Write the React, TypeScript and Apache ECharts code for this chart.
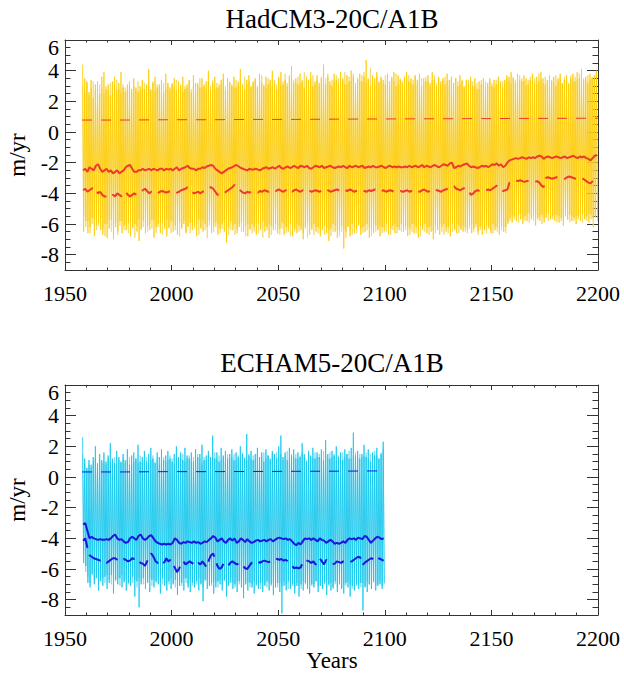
import React, { useEffect, useRef } from "react";
import * as echarts from "echarts";

// ---------- data ----------
const hadStart = 1958;
const echStart = 1958;

// HadCM3 annual-cycle peaks / troughs (gold member A and pale member B)
const hadPeakA = [
  4.4,3.5,3.3,2.6,3.4,2.2,3.1,3.3,2.5,3.6,
  3.9,2.8,3.1,2.4,3.3,3.6,2.7,3.2,3.9,2.9,
  2.6,3.1,3.3,2.8,3.5,2.9,2.6,3.0,3.4,2.8,
  3.1,4.1,2.7,3.2,3.6,2.9,3.1,3.4,2.6,3.8,
  3.2,2.9,3.1,3.5,2.7,3.3,3.0,3.6,2.8,3.1,
  3.4,2.6,3.7,3.2,3.1,2.9,3.5,3.0,3.3,4.0,
  2.8,3.2,3.6,2.9,3.1,3.4,3.8,2.7,3.5,3.2,
  3.0,3.6,2.9,3.3,4.1,3.1,2.8,3.4,3.7,3.0,
  3.3,3.5,2.9,3.8,3.2,3.0,3.6,3.1,3.4,4.0,
  3.2,2.8,3.5,3.9,3.1,3.4,3.0,3.7,4.3,3.2,
  3.5,3.1,3.8,3.3,2.9,3.6,3.4,3.9,3.0,3.3,
  3.7,3.2,3.5,4.4,3.1,3.6,3.3,3.0,3.8,3.4,
  3.2,3.9,3.5,3.1,3.7,3.3,4.0,3.6,3.2,3.5,
  3.8,3.3,3.6,4.7,3.4,3.0,3.7,3.5,3.9,3.2,
  3.6,3.4,3.1,3.8,3.3,3.5,3.9,3.0,3.7,3.4,
  3.2,3.6,3.9,3.3,3.5,3.1,3.7,3.4,3.8,3.0,
  3.5,3.3,3.7,3.2,3.9,3.4,3.0,3.6,3.3,3.5,
  3.1,3.8,3.4,3.6,3.2,3.5,3.0,3.7,3.3,2.9,
  3.4,3.2,3.6,3.0,3.5,2.8,3.3,3.1,3.5,2.9,
  3.2,3.5,3.0,3.4,3.1,3.6,3.3,2.9,3.4,3.7,
  3.6,3.9,3.5,3.2,3.8,3.4,3.3,3.7,3.5,3.1,
  3.4,3.8,3.2,3.6,3.3,3.9,3.5,3.1,3.4,3.7,
  3.3,3.6,3.0,3.5,3.8,3.2,3.4,3.7,3.1,3.5,
  3.8,3.3,3.9,3.5,4.1,3.4,3.6,3.2,3.8,3.5,
  3.7,4.0,
];
const hadTroughA = [
  -6.5,-5.8,-6.6,-6.2,-5.6,-6.8,-6.1,-5.9,-6.4,-6.7,
  -6.0,-6.9,-6.3,-5.7,-7.0,-6.2,-6.5,-5.8,-6.6,-6.1,
  -6.4,-5.9,-6.8,-6.2,-6.0,-6.5,-7.1,-6.3,-5.8,-6.6,
  -6.1,-6.4,-5.7,-6.9,-6.2,-6.0,-6.6,-5.9,-6.3,-6.8,
  -6.2,-5.8,-6.5,-6.1,-6.7,-5.9,-6.3,-6.0,-6.6,-6.2,
  -5.9,-6.4,-6.1,-6.8,-5.7,-6.3,-6.5,-6.0,-6.2,-5.8,
  -6.6,-6.1,-5.9,-6.7,-6.3,-6.0,-6.5,-7.2,-6.2,-5.8,
  -6.4,-6.0,-6.6,-6.2,-5.9,-6.5,-6.1,-6.8,-6.3,-6.0,
  -6.2,-6.7,-6.0,-6.4,-5.8,-6.5,-6.2,-6.9,-6.1,-6.4,
  -6.0,-6.6,-6.3,-5.9,-6.7,-6.2,-6.5,-6.0,-6.8,-6.3,
  -6.6,-6.1,-6.4,-7.0,-6.2,-5.9,-6.7,-6.3,-6.0,-6.5,
  -6.2,-6.8,-6.4,-6.1,-6.6,-7.1,-6.3,-6.0,-6.5,-6.9,
  -6.4,-6.1,-7.6,-6.5,-6.2,-6.8,-6.0,-6.6,-6.3,-6.1,
  -6.7,-6.2,-6.5,-6.0,-6.9,-6.3,-6.6,-6.1,-6.4,-6.8,
  -6.2,-6.5,-6.0,-6.7,-6.3,-6.1,-6.6,-6.2,-6.4,-6.0,
  -6.5,-6.1,-6.8,-6.3,-6.0,-6.6,-6.2,-6.9,-6.1,-6.4,
  -6.0,-6.6,-6.2,-6.5,-7.0,-6.1,-6.4,-6.7,-6.2,-6.0,
  -6.5,-6.2,-6.8,-6.0,-6.4,-6.6,-6.1,-6.3,-6.5,-6.2,
  -6.4,-6.1,-6.6,-6.3,-6.0,-6.5,-6.2,-6.7,-6.4,-6.1,
  -6.3,-6.6,-6.0,-6.4,-6.2,-6.7,-6.1,-6.5,-6.2,-5.9,
  -5.6,-5.9,-5.5,-5.8,-5.4,-5.7,-6.0,-5.5,-5.8,-5.3,
  -5.7,-5.5,-6.1,-5.6,-5.8,-5.4,-5.9,-5.6,-5.3,-5.7,
  -5.5,-5.8,-5.4,-5.9,-5.6,-6.1,-5.5,-5.7,-5.4,-5.8,
  -5.6,-6.0,-5.5,-5.8,-5.3,-5.7,-5.5,-5.9,-5.4,-5.6,
  -5.5,-5.8,
];
const hadPeakB = [
  3.0,2.6,3.2,2.4,2.9,3.3,2.7,2.5,3.1,2.8,
  2.5,3.0,2.7,3.2,2.6,2.9,3.4,2.8,2.5,3.1,
  2.9,2.7,3.1,2.6,3.0,2.8,3.3,2.7,2.9,3.2,
  2.6,3.0,2.8,3.3,2.7,3.1,2.9,2.6,3.2,2.8,
  3.0,2.7,3.2,2.9,3.4,2.8,3.1,2.6,3.0,2.9,
  3.3,2.8,3.0,2.7,3.2,3.5,2.9,3.1,2.8,3.3,
  3.0,3.4,2.8,3.2,2.9,3.1,3.5,3.0,2.7,3.3,
  3.1,2.9,3.4,3.0,3.2,2.8,3.6,3.1,3.3,2.9,
  3.2,3.4,3.0,3.3,3.7,3.1,2.9,3.5,3.2,3.0,
  3.4,3.1,3.6,3.0,3.3,3.8,3.2,3.5,3.0,3.4,
  3.2,3.6,3.1,3.4,3.9,3.3,3.0,3.5,3.7,3.1,
  3.4,3.0,3.6,3.2,3.5,3.8,3.1,3.4,3.3,3.7,
  3.5,3.2,3.4,3.9,3.1,3.6,3.3,3.8,3.0,3.4,
  3.3,3.7,3.9,3.2,3.5,4.2,3.4,3.1,3.6,3.3,
  3.5,3.2,3.7,3.4,3.0,3.6,3.3,3.8,3.1,3.5,
  3.3,3.0,3.5,3.7,3.2,3.4,3.6,3.1,3.3,3.5,
  3.2,3.6,3.3,3.0,3.4,3.7,3.2,3.5,3.1,3.4,
  3.6,3.3,3.0,3.4,3.2,3.5,3.3,3.1,3.4,3.0,
  3.1,3.4,2.9,3.3,3.0,3.2,2.8,3.4,3.1,3.3,
  3.0,3.3,3.2,2.9,3.4,3.1,3.0,3.3,3.2,3.5,
  3.3,3.1,3.6,3.4,3.2,3.7,3.5,3.3,3.0,3.4,
  3.6,3.3,3.5,3.1,3.8,3.4,3.2,3.6,3.3,3.0,
  3.4,3.2,3.7,3.3,3.5,3.1,3.6,3.4,3.2,3.7,
  3.3,3.6,3.4,3.8,3.2,3.5,3.3,3.7,3.4,3.6,
  3.5,3.8,
];
const hadTroughB = [
  -5.5,-6.2,-5.8,-6.6,-6.0,-5.7,-6.4,-6.1,-5.6,-6.3,
  -6.8,-6.0,-5.7,-6.5,-6.2,-5.9,-6.7,-6.1,-5.8,-6.4,
  -6.0,-6.6,-5.8,-6.3,-6.9,-6.1,-5.7,-6.4,-6.2,-5.9,
  -6.5,-6.0,-6.3,-5.8,-6.6,-6.2,-5.9,-6.7,-6.1,-5.7,
  -6.3,-6.6,-5.9,-6.4,-6.0,-6.8,-6.2,-5.8,-6.5,-6.1,
  -6.6,-5.9,-6.3,-6.0,-6.7,-6.2,-5.8,-6.4,-6.9,-6.1,
  -5.9,-6.5,-6.2,-6.0,-6.6,-6.3,-5.8,-6.1,-6.7,-6.4,
  -6.1,-6.7,-6.3,-6.0,-6.5,-6.2,-6.8,-6.0,-6.4,-6.6,
  -6.5,-6.0,-6.6,-6.2,-6.9,-6.1,-6.4,-6.0,-6.7,-6.2,
  -6.4,-6.1,-6.7,-6.3,-6.0,-6.6,-6.2,-6.8,-6.1,-6.5,
  -6.0,-6.5,-6.2,-6.6,-6.3,-6.9,-6.1,-6.4,-6.7,-6.2,
  -6.6,-6.3,-6.0,-6.7,-6.2,-6.4,-6.8,-6.5,-6.1,-6.3,
  -6.8,-6.5,-6.3,-6.9,-6.1,-6.4,-6.7,-6.2,-6.6,-6.0,
  -6.3,-6.6,-6.1,-6.4,-6.2,-6.8,-6.0,-6.5,-6.3,-6.1,
  -6.6,-6.2,-6.5,-6.1,-6.7,-6.4,-6.0,-6.6,-6.2,-6.5,
  -6.1,-6.4,-6.2,-6.7,-6.5,-6.0,-6.6,-6.3,-6.8,-6.2,
  -6.5,-6.2,-6.7,-6.1,-6.4,-6.6,-6.3,-6.0,-6.5,-6.7,
  -6.2,-6.6,-6.1,-6.5,-6.3,-6.0,-6.6,-6.4,-6.1,-6.5,
  -6.6,-6.3,-6.0,-6.5,-6.2,-6.7,-6.4,-6.1,-6.3,-6.6,
  -6.1,-6.4,-6.6,-6.2,-6.5,-6.0,-6.4,-6.2,-6.6,-6.0,
  -5.8,-5.4,-5.7,-5.5,-5.9,-5.3,-5.6,-5.8,-5.4,-5.9,
  -5.5,-5.8,-5.4,-5.7,-5.5,-6.0,-5.6,-5.3,-5.8,-5.5,
  -5.7,-5.4,-5.9,-5.5,-5.8,-5.6,-5.3,-5.7,-5.9,-5.5,
  -5.8,-5.5,-5.7,-5.4,-5.9,-5.6,-5.8,-5.3,-5.7,-6.2,
  -5.6,-5.4,
];
// HadCM3 annual statistics (red)
const hadMean = [
  -2.5,-2.4,-2.6,-2.3,-2.4,-2.5,-2.2,-2.1,-2.4,-2.6,
  -2.5,-2.4,-2.6,-2.5,-2.7,-2.6,-2.5,-2.7,-2.6,-2.5,
  -2.3,-2.2,-2.15,-2.4,-2.6,-2.6,-2.5,-2.5,-2.4,-2.5,
  -2.45,-2.4,-2.5,-2.4,-2.45,-2.5,-2.4,-2.4,-2.5,-2.4,
  -2.45,-2.4,-2.5,-2.4,-2.3,-2.5,-2.4,-2.35,-2.3,-2.2,
  -2.35,-2.4,-2.4,-2.5,-2.4,-2.4,-2.3,-2.35,-2.25,-2.2,
  -2.15,-2.2,-2.4,-2.5,-2.6,-2.7,-2.6,-2.5,-2.4,-2.35,
  -2.3,-2.2,-2.15,-2.25,-2.35,-2.4,-2.45,-2.5,-2.4,-2.45,
  -2.45,-2.4,-2.45,-2.5,-2.4,-2.35,-2.3,-2.4,-2.35,-2.3,
  -2.4,-2.3,-2.2,-2.35,-2.4,-2.3,-2.25,-2.35,-2.3,-2.2,
  -2.3,-2.35,-2.2,-2.25,-2.3,-2.2,-2.35,-2.4,-2.3,-2.2,
  -2.25,-2.3,-2.2,-2.35,-2.3,-2.25,-2.2,-2.3,-2.35,-2.3,
  -2.25,-2.3,-2.2,-2.3,-2.35,-2.2,-2.3,-2.25,-2.2,-2.3,
  -2.25,-2.2,-2.35,-2.3,-2.25,-2.3,-2.2,-2.3,-2.3,-2.25,
  -2.2,-2.3,-2.35,-2.25,-2.2,-2.3,-2.25,-2.3,-2.25,-2.3,
  -2.3,-2.25,-2.3,-2.2,-2.3,-2.25,-2.2,-2.3,-2.25,-2.15,
  -2.3,-2.2,-2.25,-2.3,-2.2,-2.15,-2.25,-2.3,-2.2,-2.1,
  -2.15,-2.2,-2.05,-2.0,-2.35,-2.3,-2.2,-2.25,-2.15,-2.1,
  -2.05,-2.2,-2.3,-2.25,-2.3,-2.35,-2.3,-2.2,-2.25,-2.2,
  -2.3,-2.2,-2.1,-2.15,-2.05,-2.2,-2.1,-2.3,-2.2,-2.0,
  -1.85,-1.8,-1.75,-1.7,-1.75,-1.7,-1.65,-1.7,-1.75,-1.65,
  -1.7,-1.65,-1.7,-1.6,-1.55,-1.6,-1.75,-1.65,-1.6,-1.65,
  -1.7,-1.65,-1.6,-1.65,-1.7,-1.65,-1.6,-1.7,-1.65,-1.6,
  -1.55,-1.65,-1.7,-1.6,-1.65,-1.6,-1.7,-1.75,-1.85,-1.7,
  -1.55,-1.5,
];
const hadLow = [
  -3.8,-3.7,-3.9,-3.8,-3.7,-3.6,-3.7,-4.0,-3.9,-4.1,
  -4.2,-4.2,-4.1,-4.2,-4.1,-4.2,-4.0,-4.1,-4.2,-4.0,
  -3.9,-4.1,-4.2,-4.1,-4.0,-4.1,-4.0,-3.9,-3.8,-3.7,
  -3.85,-4.0,-3.9,-3.95,-3.9,-4.0,-3.9,-3.85,-3.9,-3.95,
  -3.9,-3.85,-3.9,-4.0,-3.95,-3.9,-3.8,-3.75,-3.7,-3.6,
  -3.75,-3.9,-4.0,-3.95,-3.9,-4.0,-3.9,-3.85,-3.7,-3.65,
  -3.6,-3.7,-3.9,-4.1,-4.05,-4.1,-4.0,-3.9,-3.8,-3.7,
  -3.6,-3.45,-3.5,-3.7,-3.85,-3.95,-4.0,-3.9,-3.95,-3.9,
  -3.85,-3.9,-3.95,-3.85,-3.9,-3.8,-3.85,-3.9,-3.8,-3.85,
  -3.9,-3.8,-3.75,-3.85,-3.9,-3.8,-3.7,-3.85,-3.9,-3.8,
  -3.75,-3.85,-3.9,-3.8,-3.85,-3.75,-3.8,-3.9,-3.85,-3.8,
  -3.85,-3.9,-3.8,-3.75,-3.85,-3.8,-3.9,-3.85,-3.8,-3.75,
  -3.8,-3.85,-3.9,-3.8,-3.85,-3.75,-3.8,-3.9,-3.85,-3.8,
  -3.75,-3.8,-3.85,-3.9,-3.8,-3.85,-3.8,-3.75,-3.85,-3.9,
  -3.85,-3.8,-3.9,-3.85,-3.8,-3.85,-3.9,-3.85,-3.9,-3.85,
  -3.9,-3.85,-3.8,-3.9,-3.85,-3.9,-3.8,-3.85,-3.9,-3.8,
  -3.75,-3.85,-3.9,-3.8,-3.85,-3.75,-3.8,-3.85,-3.9,-3.8,
  -3.75,-3.7,-3.6,-3.5,-3.55,-3.7,-3.75,-3.8,-3.7,-3.65,
  -3.7,-3.9,-4.1,-4.0,-3.85,-3.8,-3.85,-3.9,-3.85,-3.8,
  -3.75,-3.8,-3.7,-3.6,-3.5,-3.65,-3.8,-3.85,-3.8,-3.75,
  -3.3,-3.2,-3.2,-3.15,-3.2,-3.15,-3.2,-3.25,-3.2,-3.2,
  -3.15,-3.2,-3.25,-3.2,-3.3,-3.5,-3.6,-3.0,-2.95,-3.0,
  -3.05,-3.0,-2.95,-3.0,-3.05,-3.1,-3.05,-2.95,-2.9,-2.95,
  -3.0,-3.05,-3.1,-3.05,-3.0,-3.1,-3.2,-3.3,-3.35,-3.2,
  -3.05,-3.0,
];
const hadHighYears = [1958, 1978, 1998, 2018, 2038, 2058, 2078, 2098, 2118, 2138, 2158, 2178, 2200];
const hadHigh = [0.78, 0.78, 0.8, 0.8, 0.82, 0.82, 0.84, 0.85, 0.86, 0.87, 0.88, 0.89, 0.9];

// ECHAM5 annual-cycle peaks / troughs (cyan member A and pale member B)
const echPeakA = [
  2.6,1.2,0.6,1.1,0.8,1.3,2.0,0.9,1.5,1.1,
  1.6,1.0,1.4,2.2,1.2,0.9,1.7,1.3,1.0,1.5,
  1.1,1.8,0.8,1.4,1.6,1.2,2.1,1.0,1.3,1.7,
  1.0,1.5,1.9,1.2,0.9,1.6,1.3,1.8,1.1,1.4,
  1.7,1.2,1.0,1.5,2.0,1.3,1.6,1.1,1.9,1.4,
  1.2,1.6,1.0,1.8,1.3,1.5,2.1,1.1,1.4,1.7,
  1.3,2.7,1.2,1.6,1.0,1.9,1.4,1.7,1.2,1.5,
  1.8,1.1,1.6,1.3,2.0,1.5,1.2,2.8,1.4,1.7,
  1.1,1.5,1.9,1.3,1.6,1.0,1.8,1.4,1.2,1.7,
  1.5,1.2,2.0,2.7,1.3,1.6,1.1,1.9,1.4,1.8,
  1.2,1.6,1.3,2.2,1.5,1.0,1.7,1.4,1.9,1.2,
  1.6,1.3,1.8,1.1,2.4,1.5,1.2,1.7,1.4,2.0,
  1.3,1.6,1.1,1.8,1.5,1.2,1.9,2.9,1.4,1.7,
  1.2,1.5,2.1,1.3,1.8,1.0,1.6,1.4,1.9,1.2,
  1.5,2.3,
];
const echTroughA = [
  -5.6,-5.8,-6.9,-7.2,-6.3,-7.0,-6.6,-7.4,-6.8,-7.1,
  -6.5,-7.3,-6.9,-6.4,-7.6,-6.7,-7.0,-6.6,-7.2,-6.8,
  -7.4,-6.9,-7.1,-6.5,-7.8,-6.8,-8.5,-7.0,-6.6,-7.3,
  -6.9,-7.5,-6.7,-7.2,-6.8,-7.0,-7.6,-6.6,-7.1,-7.4,
  -6.8,-7.3,-7.0,-6.7,-7.7,-7.1,-6.9,-7.4,-6.6,-7.2,
  -7.5,-6.9,-7.2,-6.8,-7.4,-7.0,-8.1,-6.7,-7.3,-7.1,
  -6.9,-7.6,-7.2,-6.8,-7.0,-7.4,-6.7,-7.8,-7.1,-6.9,
  -7.3,-7.0,-7.5,-6.8,-7.2,-7.9,-7.0,-7.4,-6.9,-7.2,
  -7.6,-7.0,-7.3,-6.9,-7.5,-7.1,-6.8,-7.4,-7.0,-7.7,
  -7.2,-6.9,-7.5,-8.9,-7.1,-7.4,-6.8,-7.3,-7.0,-7.6,
  -7.1,-7.8,-7.0,-7.4,-6.9,-7.3,-7.6,-7.0,-7.2,-6.8,
  -7.5,-7.1,-7.3,-6.9,-7.7,-7.0,-7.4,-7.2,-6.8,-7.5,
  -7.0,-7.3,-7.6,-6.9,-7.2,-7.8,-7.1,-7.4,-7.0,-7.3,
  -6.9,-8.7,-7.2,-7.5,-7.0,-7.3,-6.8,-7.4,-7.1,-7.0,
  -7.3,-6.9,
];
const echPeakB = [
  1.5,0.9,0.5,0.8,0.6,1.0,1.2,0.7,1.1,0.9,
  1.0,0.8,1.2,1.0,0.9,1.3,0.8,1.1,0.9,1.2,
  0.9,1.1,1.3,0.8,1.0,1.2,0.9,1.4,1.0,1.1,
  1.3,0.9,1.1,1.4,1.0,1.2,0.8,1.1,1.3,1.0,
  1.1,1.4,1.2,0.9,1.3,1.0,1.2,1.5,1.0,1.2,
  1.4,1.0,1.3,1.1,1.5,1.2,0.9,1.3,1.1,1.4,
  1.0,1.3,1.6,1.2,1.4,1.1,1.3,1.0,1.5,1.2,
  1.3,1.5,1.1,1.4,1.2,1.6,1.3,1.1,1.5,1.2,
  1.4,1.2,1.5,1.1,1.3,1.6,1.2,1.4,1.1,1.5,
  1.2,1.6,1.3,1.5,1.1,1.4,1.7,1.2,1.5,1.3,
  1.5,1.2,1.4,1.6,1.3,1.1,1.5,1.3,1.2,1.6,
  1.3,1.5,1.2,1.7,1.4,1.2,1.6,1.3,1.5,1.1,
  1.4,1.2,1.6,1.3,1.5,1.7,1.2,1.4,1.6,1.3,
  1.5,1.3,1.4,1.6,1.2,1.5,1.3,1.7,1.4,1.2,
  1.6,1.8,
];
const echTroughB = [
  -5.0,-6.2,-6.5,-6.9,-6.4,-6.7,-6.3,-6.8,-6.5,-6.6,
  -6.9,-6.4,-6.7,-7.0,-6.5,-6.8,-6.6,-7.1,-6.4,-6.9,
  -6.6,-7.0,-6.5,-6.9,-6.7,-7.2,-6.6,-6.8,-7.0,-6.5,
  -6.8,-6.6,-7.1,-6.7,-6.9,-6.5,-6.8,-7.0,-6.6,-6.9,
  -7.0,-6.6,-6.9,-7.2,-6.7,-6.8,-7.1,-6.6,-6.9,-7.0,
  -6.7,-7.1,-6.8,-7.0,-6.6,-6.9,-7.2,-6.8,-6.7,-7.0,
  -7.1,-6.8,-6.9,-7.2,-6.7,-7.0,-6.8,-7.1,-6.9,-6.6,
  -6.9,-7.2,-6.8,-7.0,-6.7,-7.1,-6.9,-6.8,-7.2,-7.0,
  -6.8,-7.1,-6.9,-7.3,-6.8,-7.0,-7.2,-6.9,-7.1,-6.8,
  -7.0,-7.2,-6.9,-7.1,-6.8,-7.0,-7.3,-6.9,-7.1,-7.2,
  -6.9,-7.1,-7.3,-6.8,-7.0,-7.2,-6.9,-7.1,-7.0,-6.8,
  -7.1,-6.9,-7.2,-7.0,-6.8,-7.1,-6.9,-7.3,-7.0,-7.2,
  -6.9,-7.2,-7.0,-7.1,-6.8,-7.0,-7.3,-6.9,-7.1,-7.0,
  -7.2,-6.9,-7.1,-6.8,-7.0,-7.2,-6.9,-7.1,-7.0,-6.8,
  -7.1,-7.0,
];
// ECHAM5 annual statistics (blue)
const echMean = [
  -3.1,-3.0,-3.5,-4.0,-3.9,-4.0,-4.05,-4.1,-4.05,-4.1,
  -4.1,-4.05,-4.1,-4.0,-3.85,-3.75,-4.0,-4.1,-4.05,-4.2,
  -4.3,-4.25,-4.0,-3.9,-4.0,-4.1,-3.85,-3.75,-4.0,-4.1,
  -4.0,-3.85,-3.8,-4.0,-4.2,-4.3,-4.35,-4.4,-4.35,-4.4,
  -4.35,-4.4,-4.3,-4.0,-4.1,-4.3,-4.35,-4.25,-4.3,-4.2,
  -4.25,-4.3,-4.2,-4.3,-4.25,-4.35,-4.3,-4.2,-4.25,-4.1,
  -4.0,-3.85,-3.95,-4.2,-4.1,-4.0,-4.2,-4.3,-4.1,-4.0,
  -4.15,-4.0,-4.3,-4.2,-4.0,-4.1,-4.25,-4.05,-4.2,-4.3,
  -4.25,-4.15,-4.1,-4.2,-4.15,-4.1,-4.2,-4.1,-4.05,-4.2,
  -4.1,-4.0,-3.95,-4.0,-4.05,-4.0,-4.1,-4.05,-4.2,-4.35,
  -4.45,-4.3,-4.4,-4.2,-4.0,-4.05,-4.0,-4.1,-4.0,-4.1,
  -4.2,-4.0,-4.1,-4.15,-4.3,-4.2,-4.1,-4.2,-4.35,-4.3,
  -4.35,-4.3,-4.2,-4.3,-4.1,-4.0,-4.05,-4.0,-4.1,-3.95,
  -4.0,-4.05,-3.85,-3.9,-4.1,-4.3,-4.15,-4.0,-3.9,-3.95,
  -4.05,-4.0,
];
const echLow = [
  -4.15,-4.0,-4.6,-5.1,-5.2,-5.3,-5.35,-5.4,-5.45,-5.4,
  -5.5,-5.6,-5.5,-5.4,-5.3,-5.3,-5.4,-5.5,-5.4,-5.35,
  -5.4,-5.5,-5.45,-5.3,-5.35,-5.3,-5.5,-5.6,-5.65,-5.8,
  -5.5,-5.1,-5.0,-5.2,-5.5,-5.6,-5.5,-5.4,-5.6,-5.3,
  -5.5,-5.4,-5.7,-5.9,-6.2,-6.0,-5.6,-5.5,-5.7,-5.6,
  -5.5,-5.6,-5.7,-5.8,-5.6,-5.7,-5.5,-5.7,-5.9,-5.4,
  -5.1,-5.0,-5.4,-5.8,-6.0,-5.9,-5.6,-5.7,-5.8,-5.6,
  -5.5,-5.6,-5.7,-5.65,-5.6,-5.8,-5.95,-6.0,-5.8,-5.6,
  -5.5,-5.55,-5.5,-5.6,-5.5,-5.45,-5.5,-5.55,-5.5,-5.4,
  -5.3,-5.35,-5.4,-5.35,-5.45,-5.4,-5.5,-5.6,-5.8,-5.95,
  -5.9,-5.95,-5.9,-5.6,-5.4,-5.45,-5.5,-5.6,-5.5,-5.7,
  -5.6,-5.3,-5.5,-5.7,-5.4,-5.5,-5.6,-5.7,-5.65,-5.5,
  -5.55,-5.6,-5.5,-5.45,-5.5,-5.55,-5.5,-5.4,-5.3,-5.2,
  -5.25,-5.75,-5.6,-5.5,-5.4,-5.3,-5.35,-5.5,-5.45,-5.3,
  -5.4,-5.45,
];
const echHighYears = [1958, 1978, 1998, 2018, 2038, 2058, 2078, 2100];
const echHigh = [0.33, 0.33, 0.35, 0.35, 0.36, 0.37, 0.38, 0.4];

const xTicks = [1950, 2000, 2050, 2100, 2150, 2200];
const titles = ["HadCM3-20C/A1B", "ECHAM5-20C/A1B"];

// ---------- helpers ----------
const FONT = "Liberation Serif";

function zigzag(start: number, peaks: number[], troughs: number[]) {
  const out: number[][] = [];
  const n = Math.min(peaks.length, troughs.length);
  for (let i = 0; i < n; i++) {
    out.push([start + i + 0.25, peaks[i]]);
    out.push([start + i + 0.75, troughs[i]]);
  }
  return out;
}
function yearly(start: number, vals: number[]) {
  return vals.map((v, i) => [start + i + 0.5, v]);
}
function pairs(xs: number[], ys: number[]) {
  return xs.map((x, i) => [x, ys[i]]);
}

const GRID_TOPS = [40, 385];
const GRID_H = 230;
const GRID_L = 65;
const GRID_W = 533;

export default function App() {
  const ref = useRef<HTMLDivElement>(null);

  useEffect(() => {
    if (!ref.current) return;
    const chart = echarts.init(ref.current, undefined, { renderer: "svg" });
    const axisColor = "#333";

    const labelStyle = {
      fontFamily: FONT,
      fontSize: 22,
      color: "#000",
    };

    const xAxes: any[] = [];
    const yAxes: any[] = [];
    GRID_TOPS.forEach((_, g) => {
      ["bottom", "top"].forEach((pos) => {
        xAxes.push({
          type: "value",
          gridIndex: g,
          position: pos,
          min: xTicks[0],
          max: xTicks[xTicks.length - 1],
          interval: 50,
          axisLine: { show: true, onZero: false, lineStyle: { color: axisColor, width: 1 } },
          axisTick: { show: true, inside: true, length: 5, lineStyle: { color: axisColor } },
          minorTick: { show: true, splitNumber: 5, length: 2.5, lineStyle: { color: axisColor } },
          splitLine: { show: false },
          axisLabel: {
            show: pos === "bottom",
            ...labelStyle,
            margin: 12,
            hideOverlap: false,
            formatter: (v: number) => String(v),
          },
        });
      });
      ["left", "right"].forEach((pos) => {
        // major ticks
        yAxes.push({
          type: "value",
          gridIndex: g,
          position: pos,
          min: -9,
          max: 6,
          splitNumber: 7,
          axisLine: { show: true, onZero: false, lineStyle: { color: axisColor, width: 1 } },
          axisTick: { show: true, inside: true, length: 11, lineStyle: { color: axisColor } },
          splitLine: { show: false },
          axisLabel: {
            show: pos === "left",
            showMinLabel: false,
            hideOverlap: false,
            ...labelStyle,
            margin: 6,
            formatter: (v: number) => (v === 6 ? "{t|6}" : String(v)),
            rich: { t: { ...labelStyle, padding: [14, 0, 0, 0] } },
          },
        });
        // minor ticks
        yAxes.push({
          type: "value",
          gridIndex: g,
          position: pos,
          min: -9,
          max: 6,
          interval: 0.5,
          axisLine: { show: false },
          axisTick: { show: true, inside: true, length: 5.5, lineStyle: { color: axisColor } },
          splitLine: { show: false },
          axisLabel: { show: false },
        });
      });
    });

    const spike = (g: number, data: number[][], color: string, width: number, opacity: number) => ({
      type: "line",
      xAxisIndex: g * 2,
      yAxisIndex: g * 4,
      data,
      showSymbol: false,
      symbol: "none",
      silent: true,
      lineStyle: { color, width, opacity },
      z: 1,
    });
    const stat = (g: number, data: number[][], color: string, width: number, type: any) => ({
      type: "line",
      xAxisIndex: g * 2,
      yAxisIndex: g * 4,
      data,
      showSymbol: false,
      symbol: "none",
      silent: true,
      lineStyle: { color, width, type },
      z: 3,
    });

    const red = "#ee3b2b";
    const blue = "#1717e0";

    const series: any[] = [
      spike(0, zigzag(hadStart, hadPeakB, hadTroughB), "#f3d86a", 1, 0.85),
      spike(0, zigzag(hadStart, hadPeakA, hadTroughA), "#ffcc00", 0.8, 1),
      stat(0, pairs(hadHighYears, hadHigh), red, 1, [10, 9]),
      stat(0, yearly(hadStart, hadMean), red, 2, "solid"),
      stat(0, yearly(hadStart, hadLow), red, 2, [13, 7]),
      spike(1, zigzag(echStart, echPeakB, echTroughB), "#7fdcf2", 1, 0.85),
      spike(1, zigzag(echStart, echPeakA, echTroughA), "#12c6ee", 0.8, 1),
      stat(1, pairs(echHighYears, echHigh), blue, 1, [10, 9]),
      stat(1, yearly(echStart, echMean), blue, 2, "solid"),
      stat(1, yearly(echStart, echLow), blue, 2, [13, 7]),
    ];

    const textStyle = (text: string, size: number) => ({
      text,
      fontFamily: FONT,
      fontSize: size,
      fill: "#000",
      align: "center",
      verticalAlign: "middle",
    });

    const graphics: any[] = [
      { type: "text", x: 332, y: 19, style: textStyle(titles[0], 27) },
      { type: "text", x: 332, y: 363, style: textStyle(titles[1], 27) },
      { type: "text", x: 332, y: 660, style: textStyle("Years", 23) },
      { type: "text", x: 17, y: GRID_TOPS[0] + GRID_H / 2, rotation: Math.PI / 2, style: textStyle("m/yr", 23) },
      { type: "text", x: 17, y: GRID_TOPS[1] + GRID_H / 2, rotation: Math.PI / 2, style: textStyle("m/yr", 23) },
    ];

    chart.setOption({
      animation: false,
      backgroundColor: "#fff",
      textStyle: { fontFamily: FONT },
      grid: GRID_TOPS.map((t) => ({ left: GRID_L, top: t, width: GRID_W, height: GRID_H, containLabel: false })),
      xAxis: xAxes,
      yAxis: yAxes,
      series,
      graphic: graphics,
    });

    return () => chart.dispose();
  }, []);

  return (
    <div
      ref={ref}
      style={{ position: "absolute", left: 0, top: 0, width: 624, height: 673, background: "#fff" }}
    />
  );
}
